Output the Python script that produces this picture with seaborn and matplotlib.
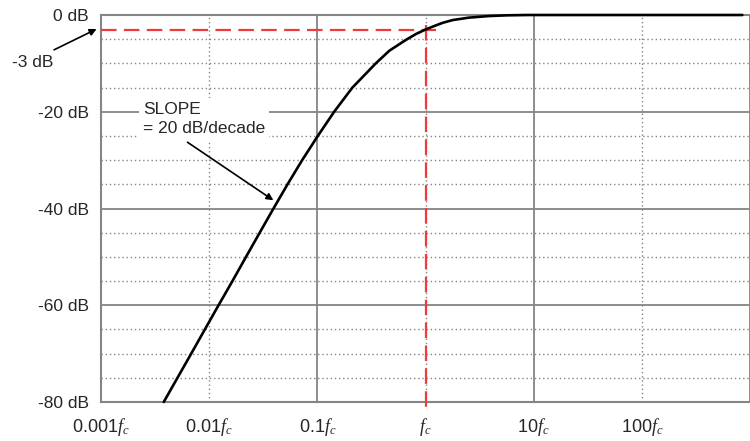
import numpy as np
import pandas as pd
import matplotlib
matplotlib.use("Agg")
import matplotlib.pyplot as plt
import seaborn as sns

# values (frequency in multiples of fc, gain in dB)
freq = [0.0038, 0.00509, 0.00682, 0.00912, 0.0122, 0.0164, 0.0219, 0.0293,
        0.0393, 0.0530, 0.0724, 0.101, 0.143, 0.211, 0.347, 0.462, 0.653,
        0.813, 1.0, 1.23, 1.45, 1.78, 2.51, 3.84, 5.62, 8.91, 850]
gain_db = [-80, -75, -70, -65, -60, -55, -50, -45, -40, -35, -30, -25, -20,
           -15, -10, -7.4, -5.2, -3.95, -3, -2.2, -1.6, -1.05, -0.55, -0.22,
           -0.07, 0, 0]

x_major = [0.001, 0.1, 10, 1000]
x_major_labels = [r'0.001$f_{c}$', r'0.1$f_{c}$', r'10$f_{c}$', '']
x_minor = [0.01, 1, 100]
x_minor_labels = [r'0.01$f_{c}$', r'$f_{c}$', r'100$f_{c}$']
y_major = [0, -20, -40, -60, -80]
y_major_labels = ['0 dB', '-20 dB', '-40 dB', '-60 dB', '-80 dB']
y_minor = [-5, -10, -15, -25, -30, -35, -45, -50, -55, -65, -70, -75]

fc = 1.0
cutoff_db = -3

df = pd.DataFrame({'f': freq, 'gain': gain_db})

sns.set_style('white')
plt.rcParams['font.family'] = ['Liberation Sans', 'DejaVu Sans']
plt.rcParams['mathtext.fontset'] = 'custom'
plt.rcParams['mathtext.it'] = 'Liberation Serif:italic'
plt.rcParams['mathtext.rm'] = 'Liberation Serif'

fig = plt.figure(figsize=(7.5, 4.41), dpi=100)
ax = fig.add_axes([0.1347, 0.0884, 0.8653, 0.8776])

grid_col = '#858585'
red = '#ee3b3b'

ax.set_xscale('log')
ax.set_xlim(0.001, 850)
ax.set_ylim(-80, 0)

ax.set_xticks(x_major, labels=x_major_labels)
ax.set_xticks(x_minor, labels=x_minor_labels, minor=True)
ax.set_yticks(y_major, labels=y_major_labels)
ax.set_yticks(y_minor, minor=True)

ax.grid(which='major', color=grid_col, lw=1.3, ls='-')
ax.grid(which='minor', color=grid_col, lw=1.0, ls=(0, (1, 2)))

ax.tick_params(axis='y', which='major', length=4, width=1.2, color=grid_col,
               pad=5, labelsize=12.5)
ax.tick_params(axis='y', which='minor', length=0)
ax.tick_params(axis='x', which='both', length=3, width=1.0, color=grid_col,
               pad=7, labelsize=13)

for s in ['left', 'bottom', 'top']:
    ax.spines[s].set_color(grid_col)
    ax.spines[s].set_linewidth(1.5)
ax.spines['right'].set_visible(False)

# cutoff markers
ax.plot([0.001, 1.26], [cutoff_db, cutoff_db], color=red, lw=1.6,
        dashes=(7, 3.3), zorder=3)
ax.plot([fc, fc], [-2.1, -81.3], color=red, lw=1.6, dashes=(7, 3.3),
        zorder=3, clip_on=False)

sns.lineplot(data=df, x='f', y='gain', ax=ax, color='black', lw=1.9,
             sort=False, zorder=4, clip_on=False)
ax.set(xlabel='', ylabel='')

# annotations
ax.text(0.000149, -10.75, '-3 dB', fontsize=12.5, ha='left', va='baseline',
        clip_on=False)
ax.annotate('', xy=(0.00091, -2.9), xytext=(0.000368, -7.2),
            arrowprops=dict(arrowstyle='-|>', color='black', lw=1.2,
                            mutation_scale=10, shrinkA=0, shrinkB=0),
            annotation_clip=False)

ax.text(0.00244, -18.0, 'SLOPE\n= 20 dB/decade', fontsize=12.5, ha='left',
        va='top', linespacing=1.35, zorder=5,
        bbox=dict(fc='white', ec='none', pad=3))
ax.annotate('', xy=(0.0392, -38.3), xytext=(0.0063, -26.3),
            arrowprops=dict(arrowstyle='-|>', color='black', lw=1.2,
                            mutation_scale=10, shrinkA=0, shrinkB=0),
            zorder=6)

fig.savefig('out.png', dpi=100)
